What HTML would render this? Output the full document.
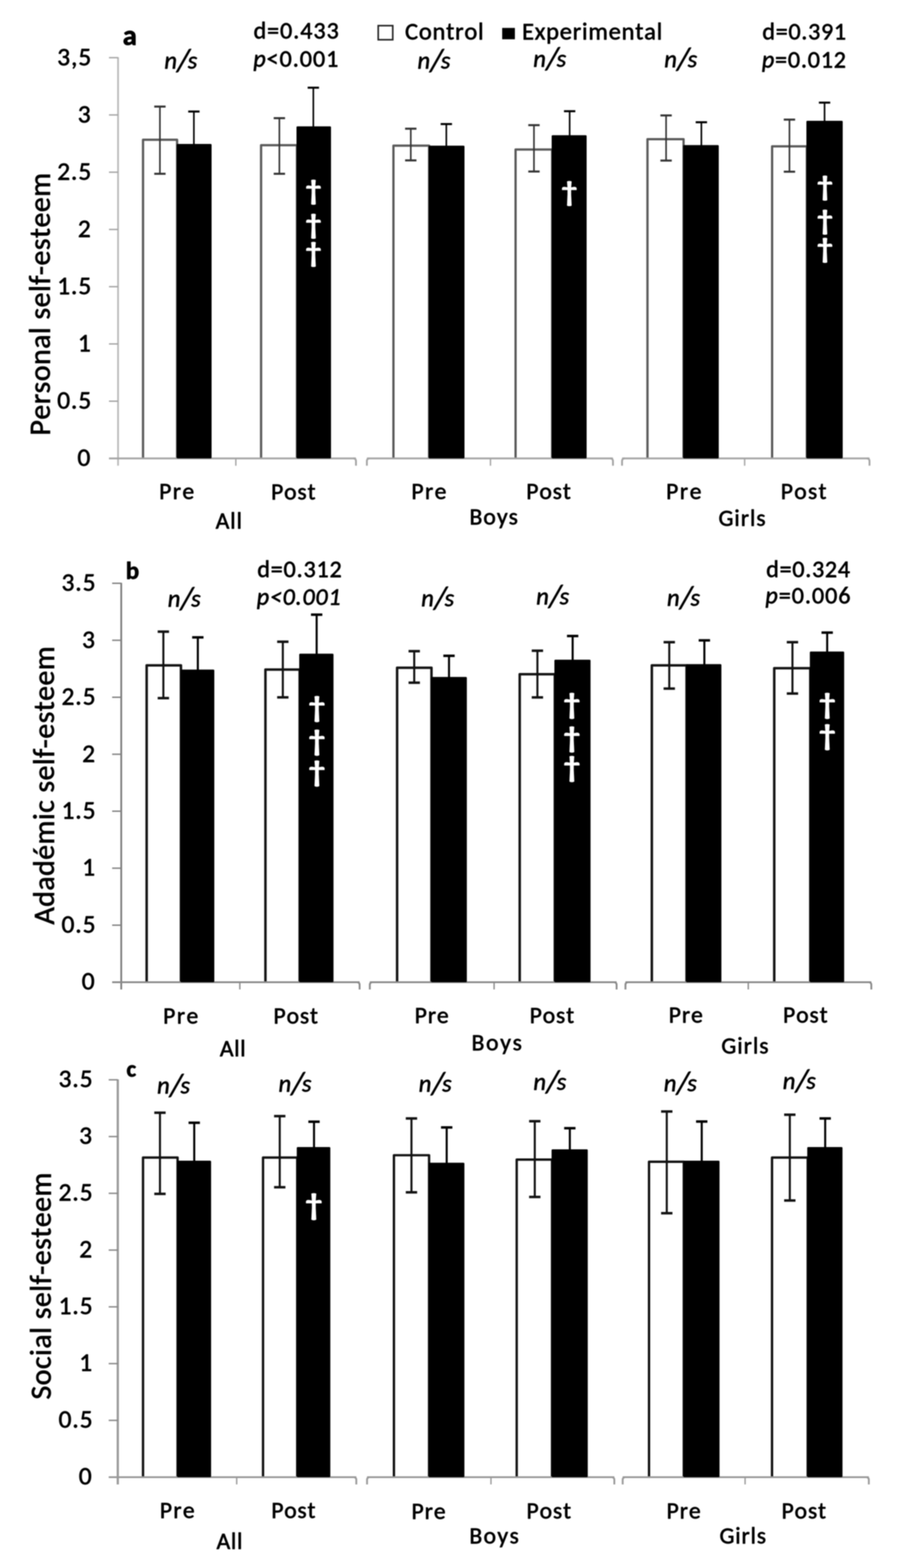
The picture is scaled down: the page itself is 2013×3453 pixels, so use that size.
<!DOCTYPE html><html><head><meta charset="utf-8"><style>html,body{margin:0;padding:0;background:#fff}svg{display:block;filter:blur(1.0px);font-kerning:none}</style></head><body>
<svg width="2013" height="3453" viewBox="0 0 2013 3453" font-family='"Carlito", "Liberation Sans", sans-serif'>
<rect width="2013" height="3453" fill="#fff"/>
<line x1="260.0" y1="126.0" x2="260.0" y2="1025.6" stroke="#bdbdbd" stroke-width="4" stroke-linecap="butt"/>
<line x1="240.0" y1="1009.6" x2="260.0" y2="1009.6" stroke="#a3a3a3" stroke-width="3" stroke-linecap="butt"/>
<line x1="240.0" y1="883.5" x2="260.0" y2="883.5" stroke="#a3a3a3" stroke-width="3" stroke-linecap="butt"/>
<line x1="240.0" y1="757.4" x2="260.0" y2="757.4" stroke="#a3a3a3" stroke-width="3" stroke-linecap="butt"/>
<line x1="240.0" y1="631.3" x2="260.0" y2="631.3" stroke="#a3a3a3" stroke-width="3" stroke-linecap="butt"/>
<line x1="240.0" y1="505.3" x2="260.0" y2="505.3" stroke="#a3a3a3" stroke-width="3" stroke-linecap="butt"/>
<line x1="240.0" y1="379.2" x2="260.0" y2="379.2" stroke="#a3a3a3" stroke-width="3" stroke-linecap="butt"/>
<line x1="240.0" y1="253.1" x2="260.0" y2="253.1" stroke="#a3a3a3" stroke-width="3" stroke-linecap="butt"/>
<line x1="240.0" y1="127.0" x2="260.0" y2="127.0" stroke="#a3a3a3" stroke-width="3" stroke-linecap="butt"/>
<path d="M315.0,1009.6 L315.0,307.8 L390.0,307.8 L390.0,1009.6" fill="#fff" stroke="#5a5a5a" stroke-width="5" stroke-linejoin="round"/>
<path d="M575.0,1009.6 L575.0,319.8 L654.0,319.8 L654.0,1009.6" fill="#fff" stroke="#5a5a5a" stroke-width="5" stroke-linejoin="round"/>
<path d="M866.5,1009.6 L866.5,320.8 L945.0,320.8 L945.0,1009.6" fill="#fff" stroke="#5a5a5a" stroke-width="5" stroke-linejoin="round"/>
<path d="M1135.5,1009.6 L1135.5,329.3 L1216.0,329.3 L1216.0,1009.6" fill="#fff" stroke="#5a5a5a" stroke-width="5" stroke-linejoin="round"/>
<path d="M1426.0,1009.6 L1426.0,306.6 L1505.5,306.6 L1505.5,1009.6" fill="#fff" stroke="#5a5a5a" stroke-width="5" stroke-linejoin="round"/>
<path d="M1700.5,1009.6 L1700.5,322.3 L1777.0,322.3 L1777.0,1009.6" fill="#fff" stroke="#5a5a5a" stroke-width="5" stroke-linejoin="round"/>
<line x1="240.0" y1="1009.6" x2="784.0" y2="1009.6" stroke="#a3a3a3" stroke-width="4" stroke-linecap="butt"/>
<line x1="519.4" y1="1009.6" x2="519.4" y2="1025.6" stroke="#a3a3a3" stroke-width="3" stroke-linecap="butt"/>
<line x1="808.0" y1="1009.6" x2="1350.0" y2="1009.6" stroke="#a3a3a3" stroke-width="4" stroke-linecap="butt"/>
<line x1="1080.2" y1="1009.6" x2="1080.2" y2="1025.6" stroke="#a3a3a3" stroke-width="3" stroke-linecap="butt"/>
<line x1="1370.0" y1="1009.6" x2="1915.0" y2="1009.6" stroke="#a3a3a3" stroke-width="4" stroke-linecap="butt"/>
<line x1="1640.0" y1="1009.6" x2="1640.0" y2="1025.6" stroke="#a3a3a3" stroke-width="3" stroke-linecap="butt"/>
<path d="M778.0,1009.6 Q784,1009.6 784,1015.6 L784,1025.6" fill="none" stroke="#a3a3a3" stroke-width="4"/>
<path d="M814.0,1009.6 Q808,1009.6 808,1015.6 L808,1025.6" fill="none" stroke="#a3a3a3" stroke-width="4"/>
<path d="M1344.0,1009.6 Q1350,1009.6 1350,1015.6 L1350,1025.6" fill="none" stroke="#a3a3a3" stroke-width="4"/>
<path d="M1376.0,1009.6 Q1370,1009.6 1370,1015.6 L1370,1025.6" fill="none" stroke="#a3a3a3" stroke-width="4"/>
<path d="M1909.0,1009.6 Q1915,1009.6 1915,1015.6 L1915,1025.6" fill="none" stroke="#a3a3a3" stroke-width="4"/>
<rect x="389.0" y="317.0" width="77.0" height="692.6" rx="2" fill="#000"/>
<line x1="352.2" y1="234.7" x2="352.2" y2="382.7" stroke="#333" stroke-width="3.5" stroke-linecap="butt"/>
<line x1="339.7" y1="234.7" x2="364.7" y2="234.7" stroke="#333" stroke-width="4.5" stroke-linecap="butt"/>
<line x1="339.7" y1="382.7" x2="364.7" y2="382.7" stroke="#333" stroke-width="4.5" stroke-linecap="butt"/>
<line x1="427.0" y1="245.6" x2="427.0" y2="319.0" stroke="#000" stroke-width="3.5" stroke-linecap="butt"/>
<line x1="414.5" y1="245.6" x2="439.5" y2="245.6" stroke="#000" stroke-width="4.5" stroke-linecap="butt"/>
<rect x="653.0" y="278.2" width="76.0" height="731.4" rx="2" fill="#000"/>
<line x1="615.3" y1="260.2" x2="615.3" y2="382.7" stroke="#333" stroke-width="3.5" stroke-linecap="butt"/>
<line x1="602.8" y1="260.2" x2="627.8" y2="260.2" stroke="#333" stroke-width="4.5" stroke-linecap="butt"/>
<line x1="602.8" y1="382.7" x2="627.8" y2="382.7" stroke="#333" stroke-width="4.5" stroke-linecap="butt"/>
<line x1="690.1" y1="193.1" x2="690.1" y2="280.2" stroke="#000" stroke-width="3.5" stroke-linecap="butt"/>
<line x1="677.6" y1="193.1" x2="702.6" y2="193.1" stroke="#000" stroke-width="4.5" stroke-linecap="butt"/>
<rect x="944.0" y="320.8" width="79.0" height="688.8" rx="2" fill="#000"/>
<line x1="904.7" y1="283.4" x2="904.7" y2="353.2" stroke="#333" stroke-width="3.5" stroke-linecap="butt"/>
<line x1="892.2" y1="283.4" x2="917.2" y2="283.4" stroke="#333" stroke-width="4.5" stroke-linecap="butt"/>
<line x1="892.2" y1="353.2" x2="917.2" y2="353.2" stroke="#333" stroke-width="4.5" stroke-linecap="butt"/>
<line x1="983.0" y1="273.2" x2="983.0" y2="322.8" stroke="#000" stroke-width="3.5" stroke-linecap="butt"/>
<line x1="970.5" y1="273.2" x2="995.5" y2="273.2" stroke="#000" stroke-width="4.5" stroke-linecap="butt"/>
<rect x="1215.0" y="297.7" width="77.0" height="711.9" rx="2" fill="#000"/>
<line x1="1176.0" y1="275.6" x2="1176.0" y2="377.7" stroke="#333" stroke-width="3.5" stroke-linecap="butt"/>
<line x1="1163.5" y1="275.6" x2="1188.5" y2="275.6" stroke="#333" stroke-width="4.5" stroke-linecap="butt"/>
<line x1="1163.5" y1="377.7" x2="1188.5" y2="377.7" stroke="#333" stroke-width="4.5" stroke-linecap="butt"/>
<line x1="1254.6" y1="244.9" x2="1254.6" y2="299.7" stroke="#000" stroke-width="3.5" stroke-linecap="butt"/>
<line x1="1242.1" y1="244.9" x2="1267.1" y2="244.9" stroke="#000" stroke-width="4.5" stroke-linecap="butt"/>
<rect x="1504.5" y="319.5" width="78.5" height="690.1" rx="2" fill="#000"/>
<line x1="1467.0" y1="254.2" x2="1467.0" y2="353.6" stroke="#333" stroke-width="3.5" stroke-linecap="butt"/>
<line x1="1454.5" y1="254.2" x2="1479.5" y2="254.2" stroke="#333" stroke-width="4.5" stroke-linecap="butt"/>
<line x1="1454.5" y1="353.6" x2="1479.5" y2="353.6" stroke="#333" stroke-width="4.5" stroke-linecap="butt"/>
<line x1="1544.7" y1="269.2" x2="1544.7" y2="321.5" stroke="#000" stroke-width="3.5" stroke-linecap="butt"/>
<line x1="1532.2" y1="269.2" x2="1557.2" y2="269.2" stroke="#000" stroke-width="4.5" stroke-linecap="butt"/>
<rect x="1776.0" y="266.0" width="80.0" height="743.6" rx="2" fill="#000"/>
<line x1="1738.7" y1="263.4" x2="1738.7" y2="378.1" stroke="#333" stroke-width="3.5" stroke-linecap="butt"/>
<line x1="1726.2" y1="263.4" x2="1751.2" y2="263.4" stroke="#333" stroke-width="4.5" stroke-linecap="butt"/>
<line x1="1726.2" y1="378.1" x2="1751.2" y2="378.1" stroke="#333" stroke-width="4.5" stroke-linecap="butt"/>
<line x1="1816.0" y1="226.0" x2="1816.0" y2="268.0" stroke="#000" stroke-width="3.5" stroke-linecap="butt"/>
<line x1="1803.5" y1="226.0" x2="1828.5" y2="226.0" stroke="#000" stroke-width="4.5" stroke-linecap="butt"/>
<text transform="translate(690.3,439.9) scale(1.12,1)" text-anchor="middle" font-size="62" font-weight="bold" fill="#fff" stroke="#fff" stroke-width="1.2" stroke-linejoin="round">†</text>
<text transform="translate(690.3,514.9) scale(1.12,1)" text-anchor="middle" font-size="62" font-weight="bold" fill="#fff" stroke="#fff" stroke-width="1.2" stroke-linejoin="round">†</text>
<text transform="translate(690.3,577.3) scale(1.12,1)" text-anchor="middle" font-size="62" font-weight="bold" fill="#fff" stroke="#fff" stroke-width="1.2" stroke-linejoin="round">†</text>
<text transform="translate(1253.8,443.3) scale(1.12,1)" text-anchor="middle" font-size="62" font-weight="bold" fill="#fff" stroke="#fff" stroke-width="1.2" stroke-linejoin="round">†</text>
<text transform="translate(1816.9,430.6) scale(1.12,1)" text-anchor="middle" font-size="62" font-weight="bold" fill="#fff" stroke="#fff" stroke-width="1.2" stroke-linejoin="round">†</text>
<text transform="translate(1816.9,505.9) scale(1.12,1)" text-anchor="middle" font-size="62" font-weight="bold" fill="#fff" stroke="#fff" stroke-width="1.2" stroke-linejoin="round">†</text>
<text transform="translate(1816.9,567.8) scale(1.12,1)" text-anchor="middle" font-size="62" font-weight="bold" fill="#fff" stroke="#fff" stroke-width="1.2" stroke-linejoin="round">†</text>
<text x="170.6" y="1026.1" font-size="56" fill="#000" stroke="#000" stroke-width="1.3" stroke-linejoin="round" textLength="28.38" lengthAdjust="spacing"><tspan>0</tspan></text>
<text x="125.9" y="900.0" font-size="56" fill="#000" stroke="#000" stroke-width="1.3" stroke-linejoin="round" textLength="74.90" lengthAdjust="spacing"><tspan>0.5</tspan></text>
<text x="171.6" y="773.9" font-size="56" fill="#000" stroke="#000" stroke-width="1.3" stroke-linejoin="round" textLength="28.38" lengthAdjust="spacing"><tspan>1</tspan></text>
<text x="125.9" y="647.8" font-size="56" fill="#000" stroke="#000" stroke-width="1.3" stroke-linejoin="round" textLength="74.90" lengthAdjust="spacing"><tspan>1.5</tspan></text>
<text x="171.5" y="521.8" font-size="56" fill="#000" stroke="#000" stroke-width="1.3" stroke-linejoin="round" textLength="28.38" lengthAdjust="spacing"><tspan>2</tspan></text>
<text x="125.9" y="395.7" font-size="56" fill="#000" stroke="#000" stroke-width="1.3" stroke-linejoin="round" textLength="74.90" lengthAdjust="spacing"><tspan>2.5</tspan></text>
<text x="171.2" y="269.6" font-size="56" fill="#000" stroke="#000" stroke-width="1.3" stroke-linejoin="round" textLength="28.38" lengthAdjust="spacing"><tspan>3</tspan></text>
<text x="126.1" y="143.5" font-size="56" fill="#000" stroke="#000" stroke-width="1.3" stroke-linejoin="round" textLength="74.74" lengthAdjust="spacing"><tspan>3,5</tspan></text>
<line x1="267.0" y1="1283.5" x2="267.0" y2="2178.9" stroke="#7f7f7f" stroke-width="4" stroke-linecap="butt"/>
<line x1="247.0" y1="2162.9" x2="267.0" y2="2162.9" stroke="#7f7f7f" stroke-width="3" stroke-linecap="butt"/>
<line x1="247.0" y1="2037.4" x2="267.0" y2="2037.4" stroke="#7f7f7f" stroke-width="3" stroke-linecap="butt"/>
<line x1="247.0" y1="1911.9" x2="267.0" y2="1911.9" stroke="#7f7f7f" stroke-width="3" stroke-linecap="butt"/>
<line x1="247.0" y1="1786.4" x2="267.0" y2="1786.4" stroke="#7f7f7f" stroke-width="3" stroke-linecap="butt"/>
<line x1="247.0" y1="1661.0" x2="267.0" y2="1661.0" stroke="#7f7f7f" stroke-width="3" stroke-linecap="butt"/>
<line x1="247.0" y1="1535.5" x2="267.0" y2="1535.5" stroke="#7f7f7f" stroke-width="3" stroke-linecap="butt"/>
<line x1="247.0" y1="1410.0" x2="267.0" y2="1410.0" stroke="#7f7f7f" stroke-width="3" stroke-linecap="butt"/>
<line x1="247.0" y1="1284.5" x2="267.0" y2="1284.5" stroke="#7f7f7f" stroke-width="3" stroke-linecap="butt"/>
<path d="M323.0,2162.9 L323.0,1465.3 L398.5,1465.3 L398.5,2162.9" fill="#fff" stroke="#141414" stroke-width="5.5" stroke-linejoin="round"/>
<path d="M584.6,2162.9 L584.6,1474.4 L660.0,1474.4 L660.0,2162.9" fill="#fff" stroke="#141414" stroke-width="5.5" stroke-linejoin="round"/>
<path d="M874.6,2162.9 L874.6,1470.4 L950.3,1470.4 L950.3,2162.9" fill="#fff" stroke="#141414" stroke-width="5.5" stroke-linejoin="round"/>
<path d="M1144.6,2162.9 L1144.6,1484.7 L1222.0,1484.7 L1222.0,2162.9" fill="#fff" stroke="#141414" stroke-width="5.5" stroke-linejoin="round"/>
<path d="M1435.6,2162.9 L1435.6,1465.3 L1512.1,1465.3 L1512.1,2162.9" fill="#fff" stroke="#141414" stroke-width="5.5" stroke-linejoin="round"/>
<path d="M1705.2,2162.9 L1705.2,1471.4 L1784.6,1471.4 L1784.6,2162.9" fill="#fff" stroke="#141414" stroke-width="5.5" stroke-linejoin="round"/>
<line x1="247.0" y1="2162.9" x2="792.0" y2="2162.9" stroke="#8a8a8a" stroke-width="4" stroke-linecap="butt"/>
<line x1="528.2" y1="2162.9" x2="528.2" y2="2178.9" stroke="#8a8a8a" stroke-width="3" stroke-linecap="butt"/>
<line x1="814.5" y1="2162.9" x2="1358.0" y2="2162.9" stroke="#8a8a8a" stroke-width="4" stroke-linecap="butt"/>
<line x1="1088.2" y1="2162.9" x2="1088.2" y2="2178.9" stroke="#8a8a8a" stroke-width="3" stroke-linecap="butt"/>
<line x1="1377.5" y1="2162.9" x2="1919.0" y2="2162.9" stroke="#8a8a8a" stroke-width="4" stroke-linecap="butt"/>
<line x1="1648.0" y1="2162.9" x2="1648.0" y2="2178.9" stroke="#8a8a8a" stroke-width="3" stroke-linecap="butt"/>
<path d="M786.0,2162.9 Q792,2162.9 792,2168.9 L792,2178.9" fill="none" stroke="#8a8a8a" stroke-width="4"/>
<path d="M820.5,2162.9 Q814.5,2162.9 814.5,2168.9 L814.5,2178.9" fill="none" stroke="#8a8a8a" stroke-width="4"/>
<path d="M1352.0,2162.9 Q1358,2162.9 1358,2168.9 L1358,2178.9" fill="none" stroke="#8a8a8a" stroke-width="4"/>
<path d="M1383.5,2162.9 Q1377.5,2162.9 1377.5,2168.9 L1377.5,2178.9" fill="none" stroke="#8a8a8a" stroke-width="4"/>
<path d="M1913.0,2162.9 Q1919,2162.9 1919,2168.9 L1919,2178.9" fill="none" stroke="#8a8a8a" stroke-width="4"/>
<rect x="397.5" y="1474.4" width="74.5" height="688.5" rx="2" fill="#000"/>
<line x1="359.8" y1="1391.0" x2="359.8" y2="1537.4" stroke="#111" stroke-width="4.5" stroke-linecap="butt"/>
<line x1="347.3" y1="1391.0" x2="372.3" y2="1391.0" stroke="#111" stroke-width="5.5" stroke-linecap="butt"/>
<line x1="347.3" y1="1537.4" x2="372.3" y2="1537.4" stroke="#111" stroke-width="5.5" stroke-linecap="butt"/>
<line x1="435.7" y1="1403.6" x2="435.7" y2="1476.4" stroke="#000" stroke-width="4.5" stroke-linecap="butt"/>
<line x1="423.2" y1="1403.6" x2="448.2" y2="1403.6" stroke="#000" stroke-width="5.5" stroke-linecap="butt"/>
<rect x="659.0" y="1439.4" width="75.5" height="723.5" rx="2" fill="#000"/>
<line x1="622.9" y1="1413.2" x2="622.9" y2="1535.7" stroke="#111" stroke-width="4.5" stroke-linecap="butt"/>
<line x1="610.4" y1="1413.2" x2="635.4" y2="1413.2" stroke="#111" stroke-width="5.5" stroke-linecap="butt"/>
<line x1="610.4" y1="1535.7" x2="635.4" y2="1535.7" stroke="#111" stroke-width="5.5" stroke-linecap="butt"/>
<line x1="697.4" y1="1353.6" x2="697.4" y2="1441.4" stroke="#000" stroke-width="4.5" stroke-linecap="butt"/>
<line x1="684.9" y1="1353.6" x2="709.9" y2="1353.6" stroke="#000" stroke-width="5.5" stroke-linecap="butt"/>
<rect x="949.3" y="1490.8" width="78.9" height="672.1" rx="2" fill="#000"/>
<line x1="912.3" y1="1434.0" x2="912.3" y2="1503.4" stroke="#111" stroke-width="4.5" stroke-linecap="butt"/>
<line x1="899.8" y1="1434.0" x2="924.8" y2="1434.0" stroke="#111" stroke-width="5.5" stroke-linecap="butt"/>
<line x1="899.8" y1="1503.4" x2="924.8" y2="1503.4" stroke="#111" stroke-width="5.5" stroke-linecap="butt"/>
<line x1="988.9" y1="1444.2" x2="988.9" y2="1492.8" stroke="#000" stroke-width="4.5" stroke-linecap="butt"/>
<line x1="976.4" y1="1444.2" x2="1001.4" y2="1444.2" stroke="#000" stroke-width="5.5" stroke-linecap="butt"/>
<rect x="1221.0" y="1452.7" width="79.6" height="710.2" rx="2" fill="#000"/>
<line x1="1183.6" y1="1433.0" x2="1183.6" y2="1535.8" stroke="#111" stroke-width="4.5" stroke-linecap="butt"/>
<line x1="1171.1" y1="1433.0" x2="1196.1" y2="1433.0" stroke="#111" stroke-width="5.5" stroke-linecap="butt"/>
<line x1="1171.1" y1="1535.8" x2="1196.1" y2="1535.8" stroke="#111" stroke-width="5.5" stroke-linecap="butt"/>
<line x1="1261.2" y1="1400.6" x2="1261.2" y2="1454.7" stroke="#000" stroke-width="4.5" stroke-linecap="butt"/>
<line x1="1248.7" y1="1400.6" x2="1273.7" y2="1400.6" stroke="#000" stroke-width="5.5" stroke-linecap="butt"/>
<rect x="1511.1" y="1462.6" width="77.7" height="700.3" rx="2" fill="#000"/>
<line x1="1474.0" y1="1414.2" x2="1474.0" y2="1516.4" stroke="#111" stroke-width="4.5" stroke-linecap="butt"/>
<line x1="1461.5" y1="1414.2" x2="1486.5" y2="1414.2" stroke="#111" stroke-width="5.5" stroke-linecap="butt"/>
<line x1="1461.5" y1="1516.4" x2="1486.5" y2="1516.4" stroke="#111" stroke-width="5.5" stroke-linecap="butt"/>
<line x1="1551.3" y1="1410.2" x2="1551.3" y2="1464.6" stroke="#000" stroke-width="4.5" stroke-linecap="butt"/>
<line x1="1538.8" y1="1410.2" x2="1563.8" y2="1410.2" stroke="#000" stroke-width="5.5" stroke-linecap="butt"/>
<rect x="1783.6" y="1434.7" width="75.6" height="728.2" rx="2" fill="#000"/>
<line x1="1745.3" y1="1414.2" x2="1745.3" y2="1527.3" stroke="#111" stroke-width="4.5" stroke-linecap="butt"/>
<line x1="1732.8" y1="1414.2" x2="1757.8" y2="1414.2" stroke="#111" stroke-width="5.5" stroke-linecap="butt"/>
<line x1="1732.8" y1="1527.3" x2="1757.8" y2="1527.3" stroke="#111" stroke-width="5.5" stroke-linecap="butt"/>
<line x1="1821.8" y1="1393.1" x2="1821.8" y2="1436.7" stroke="#000" stroke-width="4.5" stroke-linecap="butt"/>
<line x1="1809.3" y1="1393.1" x2="1834.3" y2="1393.1" stroke="#000" stroke-width="5.5" stroke-linecap="butt"/>
<text transform="translate(697.8,1579.0) scale(1.12,1)" text-anchor="middle" font-size="65" font-weight="bold" fill="#fff" stroke="#fff" stroke-width="1.2" stroke-linejoin="round">†</text>
<text transform="translate(697.8,1653.3) scale(1.12,1)" text-anchor="middle" font-size="65" font-weight="bold" fill="#fff" stroke="#fff" stroke-width="1.2" stroke-linejoin="round">†</text>
<text transform="translate(697.8,1721.4) scale(1.12,1)" text-anchor="middle" font-size="65" font-weight="bold" fill="#fff" stroke="#fff" stroke-width="1.2" stroke-linejoin="round">†</text>
<text transform="translate(1259.3,1572.3) scale(1.12,1)" text-anchor="middle" font-size="65" font-weight="bold" fill="#fff" stroke="#fff" stroke-width="1.2" stroke-linejoin="round">†</text>
<text transform="translate(1259.3,1645.5) scale(1.12,1)" text-anchor="middle" font-size="65" font-weight="bold" fill="#fff" stroke="#fff" stroke-width="1.2" stroke-linejoin="round">†</text>
<text transform="translate(1259.3,1710.5) scale(1.12,1)" text-anchor="middle" font-size="65" font-weight="bold" fill="#fff" stroke="#fff" stroke-width="1.2" stroke-linejoin="round">†</text>
<text transform="translate(1821.9,1571.9) scale(1.12,1)" text-anchor="middle" font-size="65" font-weight="bold" fill="#fff" stroke="#fff" stroke-width="1.2" stroke-linejoin="round">†</text>
<text transform="translate(1821.9,1641.0) scale(1.12,1)" text-anchor="middle" font-size="65" font-weight="bold" fill="#fff" stroke="#fff" stroke-width="1.2" stroke-linejoin="round">†</text>
<text x="180.1" y="2179.4" font-size="56" fill="#000" stroke="#000" stroke-width="1.3" stroke-linejoin="round" textLength="28.38" lengthAdjust="spacing"><tspan>0</tspan></text>
<text x="135.4" y="2053.9" font-size="56" fill="#000" stroke="#000" stroke-width="1.3" stroke-linejoin="round" textLength="74.90" lengthAdjust="spacing"><tspan>0.5</tspan></text>
<text x="181.1" y="1928.4" font-size="56" fill="#000" stroke="#000" stroke-width="1.3" stroke-linejoin="round" textLength="28.38" lengthAdjust="spacing"><tspan>1</tspan></text>
<text x="135.4" y="1802.9" font-size="56" fill="#000" stroke="#000" stroke-width="1.3" stroke-linejoin="round" textLength="74.90" lengthAdjust="spacing"><tspan>1.5</tspan></text>
<text x="181.0" y="1677.5" font-size="56" fill="#000" stroke="#000" stroke-width="1.3" stroke-linejoin="round" textLength="28.38" lengthAdjust="spacing"><tspan>2</tspan></text>
<text x="135.4" y="1552.0" font-size="56" fill="#000" stroke="#000" stroke-width="1.3" stroke-linejoin="round" textLength="74.90" lengthAdjust="spacing"><tspan>2.5</tspan></text>
<text x="180.8" y="1426.5" font-size="56" fill="#000" stroke="#000" stroke-width="1.3" stroke-linejoin="round" textLength="28.38" lengthAdjust="spacing"><tspan>3</tspan></text>
<text x="135.4" y="1301.0" font-size="56" fill="#000" stroke="#000" stroke-width="1.3" stroke-linejoin="round" textLength="74.90" lengthAdjust="spacing"><tspan>3.5</tspan></text>
<line x1="259.4" y1="2376.9" x2="259.4" y2="3268.9" stroke="#9c9c9c" stroke-width="5" stroke-linecap="butt"/>
<line x1="239.4" y1="3252.9" x2="259.4" y2="3252.9" stroke="#858585" stroke-width="3" stroke-linecap="butt"/>
<line x1="239.4" y1="3127.9" x2="259.4" y2="3127.9" stroke="#858585" stroke-width="3" stroke-linecap="butt"/>
<line x1="239.4" y1="3002.9" x2="259.4" y2="3002.9" stroke="#858585" stroke-width="3" stroke-linecap="butt"/>
<line x1="239.4" y1="2877.9" x2="259.4" y2="2877.9" stroke="#858585" stroke-width="3" stroke-linecap="butt"/>
<line x1="239.4" y1="2752.9" x2="259.4" y2="2752.9" stroke="#858585" stroke-width="3" stroke-linecap="butt"/>
<line x1="239.4" y1="2627.9" x2="259.4" y2="2627.9" stroke="#858585" stroke-width="3" stroke-linecap="butt"/>
<line x1="239.4" y1="2502.9" x2="259.4" y2="2502.9" stroke="#858585" stroke-width="3" stroke-linecap="butt"/>
<line x1="239.4" y1="2377.9" x2="259.4" y2="2377.9" stroke="#858585" stroke-width="3" stroke-linecap="butt"/>
<path d="M315.0,3252.9 L315.0,2549.1 L391.1,2549.1 L391.1,3252.9" fill="#fff" stroke="#111" stroke-width="5.2" stroke-linejoin="round"/>
<path d="M579.3,3252.9 L579.3,2549.1 L654.6,2549.1 L654.6,3252.9" fill="#fff" stroke="#111" stroke-width="5.2" stroke-linejoin="round"/>
<path d="M867.6,3252.9 L867.6,2544.0 L945.0,2544.0 L945.0,3252.9" fill="#fff" stroke="#111" stroke-width="5.2" stroke-linejoin="round"/>
<path d="M1138.0,3252.9 L1138.0,2553.6 L1215.8,2553.6 L1215.8,3252.9" fill="#fff" stroke="#111" stroke-width="5.2" stroke-linejoin="round"/>
<path d="M1429.4,3252.9 L1429.4,2558.3 L1506.0,2558.3 L1506.0,3252.9" fill="#fff" stroke="#111" stroke-width="5.2" stroke-linejoin="round"/>
<path d="M1700.3,3252.9 L1700.3,2549.1 L1778.9,2549.1 L1778.9,3252.9" fill="#fff" stroke="#111" stroke-width="5.2" stroke-linejoin="round"/>
<line x1="240.0" y1="3252.9" x2="784.7" y2="3252.9" stroke="#999" stroke-width="4" stroke-linecap="butt"/>
<line x1="521.3" y1="3252.9" x2="521.3" y2="3268.9" stroke="#999" stroke-width="3" stroke-linecap="butt"/>
<line x1="808.4" y1="3252.9" x2="1353.0" y2="3252.9" stroke="#999" stroke-width="4" stroke-linecap="butt"/>
<line x1="1081.3" y1="3252.9" x2="1081.3" y2="3268.9" stroke="#999" stroke-width="3" stroke-linecap="butt"/>
<line x1="1371.4" y1="3252.9" x2="1913.5" y2="3252.9" stroke="#999" stroke-width="4" stroke-linecap="butt"/>
<line x1="1641.0" y1="3252.9" x2="1641.0" y2="3268.9" stroke="#999" stroke-width="3" stroke-linecap="butt"/>
<path d="M778.7,3252.9 Q784.7,3252.9 784.7,3258.9 L784.7,3268.9" fill="none" stroke="#999" stroke-width="4"/>
<path d="M814.4,3252.9 Q808.4,3252.9 808.4,3258.9 L808.4,3268.9" fill="none" stroke="#999" stroke-width="4"/>
<path d="M1347.0,3252.9 Q1353,3252.9 1353,3258.9 L1353,3268.9" fill="none" stroke="#999" stroke-width="4"/>
<path d="M1377.4,3252.9 Q1371.4,3252.9 1371.4,3258.9 L1371.4,3268.9" fill="none" stroke="#999" stroke-width="4"/>
<path d="M1907.5,3252.9 Q1913.5,3252.9 1913.5,3258.9 L1913.5,3268.9" fill="none" stroke="#999" stroke-width="4"/>
<rect x="390.1" y="2555.9" width="74.8" height="697.0" rx="2" fill="#000"/>
<line x1="352.3" y1="2450.4" x2="352.3" y2="2629.1" stroke="#111" stroke-width="4.5" stroke-linecap="butt"/>
<line x1="339.8" y1="2450.4" x2="364.8" y2="2450.4" stroke="#111" stroke-width="5.5" stroke-linecap="butt"/>
<line x1="339.8" y1="2629.1" x2="364.8" y2="2629.1" stroke="#111" stroke-width="5.5" stroke-linecap="butt"/>
<line x1="427.8" y1="2472.5" x2="427.8" y2="2557.9" stroke="#000" stroke-width="4.5" stroke-linecap="butt"/>
<line x1="415.3" y1="2472.5" x2="440.3" y2="2472.5" stroke="#000" stroke-width="5.5" stroke-linecap="butt"/>
<rect x="653.6" y="2526.0" width="73.9" height="726.9" rx="2" fill="#000"/>
<line x1="616.1" y1="2457.9" x2="616.1" y2="2614.5" stroke="#111" stroke-width="4.5" stroke-linecap="butt"/>
<line x1="603.6" y1="2457.9" x2="628.6" y2="2457.9" stroke="#111" stroke-width="5.5" stroke-linecap="butt"/>
<line x1="603.6" y1="2614.5" x2="628.6" y2="2614.5" stroke="#111" stroke-width="5.5" stroke-linecap="butt"/>
<line x1="691.6" y1="2470.2" x2="691.6" y2="2528.0" stroke="#000" stroke-width="4.5" stroke-linecap="butt"/>
<line x1="679.1" y1="2470.2" x2="704.1" y2="2470.2" stroke="#000" stroke-width="5.5" stroke-linecap="butt"/>
<rect x="944.0" y="2560.4" width="78.8" height="692.5" rx="2" fill="#000"/>
<line x1="906.2" y1="2463.0" x2="906.2" y2="2625.7" stroke="#111" stroke-width="4.5" stroke-linecap="butt"/>
<line x1="893.7" y1="2463.0" x2="918.7" y2="2463.0" stroke="#111" stroke-width="5.5" stroke-linecap="butt"/>
<line x1="893.7" y1="2625.7" x2="918.7" y2="2625.7" stroke="#111" stroke-width="5.5" stroke-linecap="butt"/>
<line x1="983.8" y1="2482.8" x2="983.8" y2="2562.4" stroke="#000" stroke-width="4.5" stroke-linecap="butt"/>
<line x1="971.3" y1="2482.8" x2="996.3" y2="2482.8" stroke="#000" stroke-width="5.5" stroke-linecap="butt"/>
<rect x="1214.8" y="2531.1" width="79.7" height="721.8" rx="2" fill="#000"/>
<line x1="1177.8" y1="2469.1" x2="1177.8" y2="2635.9" stroke="#111" stroke-width="4.5" stroke-linecap="butt"/>
<line x1="1165.3" y1="2469.1" x2="1190.3" y2="2469.1" stroke="#111" stroke-width="5.5" stroke-linecap="butt"/>
<line x1="1165.3" y1="2635.9" x2="1190.3" y2="2635.9" stroke="#111" stroke-width="5.5" stroke-linecap="butt"/>
<line x1="1255.0" y1="2484.5" x2="1255.0" y2="2533.1" stroke="#000" stroke-width="4.5" stroke-linecap="butt"/>
<line x1="1242.5" y1="2484.5" x2="1267.5" y2="2484.5" stroke="#000" stroke-width="5.5" stroke-linecap="butt"/>
<rect x="1505.0" y="2555.9" width="79.7" height="697.0" rx="2" fill="#000"/>
<line x1="1468.5" y1="2447.7" x2="1468.5" y2="2671.7" stroke="#111" stroke-width="4.5" stroke-linecap="butt"/>
<line x1="1456.0" y1="2447.7" x2="1481.0" y2="2447.7" stroke="#111" stroke-width="5.5" stroke-linecap="butt"/>
<line x1="1456.0" y1="2671.7" x2="1481.0" y2="2671.7" stroke="#111" stroke-width="5.5" stroke-linecap="butt"/>
<line x1="1545.5" y1="2469.8" x2="1545.5" y2="2557.9" stroke="#000" stroke-width="4.5" stroke-linecap="butt"/>
<line x1="1533.0" y1="2469.8" x2="1558.0" y2="2469.8" stroke="#000" stroke-width="5.5" stroke-linecap="butt"/>
<rect x="1777.9" y="2526.0" width="77.6" height="726.9" rx="2" fill="#000"/>
<line x1="1739.5" y1="2454.8" x2="1739.5" y2="2643.7" stroke="#111" stroke-width="4.5" stroke-linecap="butt"/>
<line x1="1727.0" y1="2454.8" x2="1752.0" y2="2454.8" stroke="#111" stroke-width="5.5" stroke-linecap="butt"/>
<line x1="1727.0" y1="2643.7" x2="1752.0" y2="2643.7" stroke="#111" stroke-width="5.5" stroke-linecap="butt"/>
<line x1="1817.4" y1="2463.0" x2="1817.4" y2="2528.0" stroke="#000" stroke-width="4.5" stroke-linecap="butt"/>
<line x1="1804.9" y1="2463.0" x2="1829.9" y2="2463.0" stroke="#000" stroke-width="5.5" stroke-linecap="butt"/>
<text transform="translate(691.0,2675.3) scale(1.12,1)" text-anchor="middle" font-size="66.5" font-weight="bold" fill="#fff" stroke="#fff" stroke-width="1.2" stroke-linejoin="round">†</text>
<text x="173.6" y="3269.4" font-size="56" fill="#000" stroke="#000" stroke-width="1.3" stroke-linejoin="round" textLength="28.38" lengthAdjust="spacing"><tspan>0</tspan></text>
<text x="128.9" y="3144.4" font-size="56" fill="#000" stroke="#000" stroke-width="1.3" stroke-linejoin="round" textLength="74.90" lengthAdjust="spacing"><tspan>0.5</tspan></text>
<text x="174.6" y="3019.4" font-size="56" fill="#000" stroke="#000" stroke-width="1.3" stroke-linejoin="round" textLength="28.38" lengthAdjust="spacing"><tspan>1</tspan></text>
<text x="128.9" y="2894.4" font-size="56" fill="#000" stroke="#000" stroke-width="1.3" stroke-linejoin="round" textLength="74.90" lengthAdjust="spacing"><tspan>1.5</tspan></text>
<text x="174.5" y="2769.4" font-size="56" fill="#000" stroke="#000" stroke-width="1.3" stroke-linejoin="round" textLength="28.38" lengthAdjust="spacing"><tspan>2</tspan></text>
<text x="128.9" y="2644.4" font-size="56" fill="#000" stroke="#000" stroke-width="1.3" stroke-linejoin="round" textLength="74.90" lengthAdjust="spacing"><tspan>2.5</tspan></text>
<text x="174.2" y="2519.4" font-size="56" fill="#000" stroke="#000" stroke-width="1.3" stroke-linejoin="round" textLength="28.38" lengthAdjust="spacing"><tspan>3</tspan></text>
<text x="128.9" y="2394.4" font-size="56" fill="#000" stroke="#000" stroke-width="1.3" stroke-linejoin="round" textLength="74.90" lengthAdjust="spacing"><tspan>3.5</tspan></text>
<text x="270.3" y="99.0" font-size="63" fill="#000" stroke="#000" stroke-width="1.5" stroke-linejoin="round" textLength="31.10" lengthAdjust="spacing"><tspan font-weight="bold">a</tspan></text>
<text y="151.4" font-size="54" font-style="italic" stroke="#000" stroke-width="1.3" stroke-linejoin="round"><tspan x="361.9">n</tspan><tspan x="390.6" y="156.4" font-size="70">/</tspan><tspan x="413.5" y="151.4">s</tspan></text>
<text y="151.3" font-size="54" font-style="italic" stroke="#000" stroke-width="1.3" stroke-linejoin="round"><tspan x="919.4">n</tspan><tspan x="948.1" y="156.3" font-size="70">/</tspan><tspan x="971.0" y="151.3">s</tspan></text>
<text y="147.2" font-size="54" font-style="italic" stroke="#000" stroke-width="1.3" stroke-linejoin="round"><tspan x="1174.5">n</tspan><tspan x="1203.2" y="152.2" font-size="70">/</tspan><tspan x="1226.1" y="147.2">s</tspan></text>
<text y="148.0" font-size="54" font-style="italic" stroke="#000" stroke-width="1.3" stroke-linejoin="round"><tspan x="1462.9">n</tspan><tspan x="1491.6" y="153.0" font-size="70">/</tspan><tspan x="1514.5" y="148.0">s</tspan></text>
<text x="558.4" y="85.0" font-size="53" fill="#000" stroke="#000" stroke-width="1.3" stroke-linejoin="round" textLength="187.73" lengthAdjust="spacing"><tspan>d=0.433</tspan></text>
<text x="558.0" y="146.5" font-size="53" fill="#000" stroke="#000" stroke-width="1.3" stroke-linejoin="round" textLength="187.03" lengthAdjust="spacing"><tspan font-style="italic">p</tspan><tspan>&lt;0.001</tspan></text>
<text x="1679.1" y="87.0" font-size="53" fill="#000" stroke="#000" stroke-width="1.3" stroke-linejoin="round" textLength="184.30" lengthAdjust="spacing"><tspan>d=0.391</tspan></text>
<text x="1678.1" y="148.5" font-size="53" fill="#000" stroke="#000" stroke-width="1.3" stroke-linejoin="round" textLength="185.11" lengthAdjust="spacing"><tspan font-style="italic">p</tspan><tspan>=0.012</tspan></text>
<rect x="833" y="56.5" width="32" height="31" fill="#fff" stroke="#222" stroke-width="3.5"/>
<rect x="1106" y="61.5" width="28" height="25" fill="#000"/>
<text x="892.1" y="87.0" font-size="54" fill="#000" stroke="#000" stroke-width="1.3" stroke-linejoin="round" textLength="173.14" lengthAdjust="spacing"><tspan>Control</tspan></text>
<text x="1149.7" y="87.0" font-size="54" fill="#000" stroke="#000" stroke-width="1.3" stroke-linejoin="round" textLength="308.90" lengthAdjust="spacing"><tspan>Experimental</tspan></text>
<text x="350.4" y="1098.5" font-size="52" fill="#000" stroke="#000" stroke-width="1.3" stroke-linejoin="round" textLength="77.21" lengthAdjust="spacing"><tspan>Pre</tspan></text>
<text x="596.9" y="1099.5" font-size="52" fill="#000" stroke="#000" stroke-width="1.3" stroke-linejoin="round" textLength="97.95" lengthAdjust="spacing"><tspan>Post</tspan></text>
<text x="905.9" y="1098.5" font-size="52" fill="#000" stroke="#000" stroke-width="1.3" stroke-linejoin="round" textLength="77.11" lengthAdjust="spacing"><tspan>Pre</tspan></text>
<text x="1159.1" y="1099.0" font-size="52" fill="#000" stroke="#000" stroke-width="1.3" stroke-linejoin="round" textLength="97.95" lengthAdjust="spacing"><tspan>Post</tspan></text>
<text x="1466.9" y="1098.5" font-size="52" fill="#000" stroke="#000" stroke-width="1.3" stroke-linejoin="round" textLength="77.91" lengthAdjust="spacing"><tspan>Pre</tspan></text>
<text x="1719.6" y="1098.5" font-size="52" fill="#000" stroke="#000" stroke-width="1.3" stroke-linejoin="round" textLength="100.65" lengthAdjust="spacing"><tspan>Post</tspan></text>
<text x="475.1" y="1163.5" font-size="52" fill="#000" stroke="#000" stroke-width="1.3" stroke-linejoin="round" textLength="57.74" lengthAdjust="spacing"><tspan>All</tspan></text>
<text x="1033.9" y="1154.5" font-size="52" fill="#000" stroke="#000" stroke-width="1.3" stroke-linejoin="round" textLength="106.81" lengthAdjust="spacing"><tspan>Boys</tspan></text>
<text x="1582.4" y="1158.0" font-size="52" fill="#000" stroke="#000" stroke-width="1.3" stroke-linejoin="round" textLength="103.81" lengthAdjust="spacing"><tspan>Girls</tspan></text>
<text transform="translate(109.5,954.5) rotate(-90)" x="-4.7" y="0" font-size="66" stroke="#000" stroke-width="1.3" textLength="578.46" lengthAdjust="spacing">Personal self-esteem</text>
<text x="277.1" y="1274.8" font-size="55" fill="#000" stroke="#000" stroke-width="1.3" stroke-linejoin="round" textLength="29.51" lengthAdjust="spacing"><tspan font-weight="bold">b</tspan></text>
<text y="1336.4" font-size="54" font-style="italic" stroke="#000" stroke-width="1.3" stroke-linejoin="round"><tspan x="369.4">n</tspan><tspan x="398.1" y="1341.4" font-size="70">/</tspan><tspan x="421.0" y="1336.4">s</tspan></text>
<text y="1335.4" font-size="54" font-style="italic" stroke="#000" stroke-width="1.3" stroke-linejoin="round"><tspan x="927.7">n</tspan><tspan x="956.4" y="1340.4" font-size="70">/</tspan><tspan x="979.3" y="1335.4">s</tspan></text>
<text y="1331.3" font-size="54" font-style="italic" stroke="#000" stroke-width="1.3" stroke-linejoin="round"><tspan x="1180.9">n</tspan><tspan x="1209.6" y="1336.3" font-size="70">/</tspan><tspan x="1232.5" y="1331.3">s</tspan></text>
<text y="1334.0" font-size="54" font-style="italic" stroke="#000" stroke-width="1.3" stroke-linejoin="round"><tspan x="1469.1">n</tspan><tspan x="1497.8" y="1339.0" font-size="70">/</tspan><tspan x="1520.7" y="1334.0">s</tspan></text>
<text x="566.7" y="1270.5" font-size="53" fill="#000" stroke="#000" stroke-width="1.3" stroke-linejoin="round" textLength="185.97" lengthAdjust="spacing"><tspan>d=0.312</tspan></text>
<text x="565.6" y="1332.0" font-size="53" fill="#000" stroke="#000" stroke-width="1.3" stroke-linejoin="round" textLength="184.45" lengthAdjust="spacing"><tspan font-style="italic">p&lt;0.001</tspan></text>
<text x="1687.6" y="1270.5" font-size="53" fill="#000" stroke="#000" stroke-width="1.3" stroke-linejoin="round" textLength="184.59" lengthAdjust="spacing"><tspan>d=0.324</tspan></text>
<text x="1685.8" y="1328.5" font-size="53" fill="#000" stroke="#000" stroke-width="1.3" stroke-linejoin="round" textLength="187.29" lengthAdjust="spacing"><tspan font-style="italic">p</tspan><tspan>=0.006</tspan></text>
<text x="359.2" y="2254.0" font-size="52" fill="#000" stroke="#000" stroke-width="1.3" stroke-linejoin="round" textLength="77.51" lengthAdjust="spacing"><tspan>Pre</tspan></text>
<text x="602.3" y="2254.0" font-size="52" fill="#000" stroke="#000" stroke-width="1.3" stroke-linejoin="round" textLength="97.95" lengthAdjust="spacing"><tspan>Post</tspan></text>
<text x="913.2" y="2252.6" font-size="52" fill="#000" stroke="#000" stroke-width="1.3" stroke-linejoin="round" textLength="75.01" lengthAdjust="spacing"><tspan>Pre</tspan></text>
<text x="1166.4" y="2252.5" font-size="52" fill="#000" stroke="#000" stroke-width="1.3" stroke-linejoin="round" textLength="97.95" lengthAdjust="spacing"><tspan>Post</tspan></text>
<text x="1472.7" y="2252.0" font-size="52" fill="#000" stroke="#000" stroke-width="1.3" stroke-linejoin="round" textLength="75.11" lengthAdjust="spacing"><tspan>Pre</tspan></text>
<text x="1724.6" y="2252.0" font-size="52" fill="#000" stroke="#000" stroke-width="1.3" stroke-linejoin="round" textLength="97.95" lengthAdjust="spacing"><tspan>Post</tspan></text>
<text x="484.3" y="2325.5" font-size="52" fill="#000" stroke="#000" stroke-width="1.3" stroke-linejoin="round" textLength="56.74" lengthAdjust="spacing"><tspan>All</tspan></text>
<text x="1038.4" y="2312.5" font-size="52" fill="#000" stroke="#000" stroke-width="1.3" stroke-linejoin="round" textLength="111.01" lengthAdjust="spacing"><tspan>Boys</tspan></text>
<text x="1588.8" y="2320.0" font-size="52" fill="#000" stroke="#000" stroke-width="1.3" stroke-linejoin="round" textLength="103.81" lengthAdjust="spacing"><tspan>Girls</tspan></text>
<text transform="translate(118.5,2035.8) rotate(-90)" x="-0.3" y="0" font-size="66" stroke="#000" stroke-width="1.3" textLength="612.88" lengthAdjust="spacing">Adadémic self-esteem</text>
<text x="278.6" y="2371.0" font-size="51" fill="#000" stroke="#000" stroke-width="1.3" stroke-linejoin="round" textLength="21.34" lengthAdjust="spacing"><tspan font-weight="bold">c</tspan></text>
<text y="2407.6" font-size="54" font-style="italic" stroke="#000" stroke-width="1.3" stroke-linejoin="round"><tspan x="345.9">n</tspan><tspan x="374.6" y="2412.6" font-size="70">/</tspan><tspan x="397.5" y="2407.6">s</tspan></text>
<text y="2404.3" font-size="54" font-style="italic" stroke="#000" stroke-width="1.3" stroke-linejoin="round"><tspan x="613.4">n</tspan><tspan x="642.1" y="2409.3" font-size="70">/</tspan><tspan x="665.0" y="2404.3">s</tspan></text>
<text y="2404.0" font-size="54" font-style="italic" stroke="#000" stroke-width="1.3" stroke-linejoin="round"><tspan x="922.2">n</tspan><tspan x="950.9" y="2409.0" font-size="70">/</tspan><tspan x="973.8" y="2404.0">s</tspan></text>
<text y="2399.6" font-size="54" font-style="italic" stroke="#000" stroke-width="1.3" stroke-linejoin="round"><tspan x="1174.7">n</tspan><tspan x="1203.4" y="2404.6" font-size="70">/</tspan><tspan x="1226.3" y="2399.6">s</tspan></text>
<text y="2403.0" font-size="54" font-style="italic" stroke="#000" stroke-width="1.3" stroke-linejoin="round"><tspan x="1462.1">n</tspan><tspan x="1490.8" y="2408.0" font-size="70">/</tspan><tspan x="1513.7" y="2403.0">s</tspan></text>
<text y="2398.0" font-size="54" font-style="italic" stroke="#000" stroke-width="1.3" stroke-linejoin="round"><tspan x="1724.1">n</tspan><tspan x="1752.8" y="2403.0" font-size="70">/</tspan><tspan x="1775.7" y="2398.0">s</tspan></text>
<text x="352.1" y="3343.4" font-size="52" fill="#000" stroke="#000" stroke-width="1.3" stroke-linejoin="round" textLength="76.51" lengthAdjust="spacing"><tspan>Pre</tspan></text>
<text x="597.5" y="3343.4" font-size="52" fill="#000" stroke="#000" stroke-width="1.3" stroke-linejoin="round" textLength="97.05" lengthAdjust="spacing"><tspan>Post</tspan></text>
<text x="906.3" y="3344.7" font-size="52" fill="#000" stroke="#000" stroke-width="1.3" stroke-linejoin="round" textLength="75.11" lengthAdjust="spacing"><tspan>Pre</tspan></text>
<text x="1159.6" y="3344.0" font-size="52" fill="#000" stroke="#000" stroke-width="1.3" stroke-linejoin="round" textLength="97.95" lengthAdjust="spacing"><tspan>Post</tspan></text>
<text x="1468.0" y="3344.0" font-size="52" fill="#000" stroke="#000" stroke-width="1.3" stroke-linejoin="round" textLength="75.11" lengthAdjust="spacing"><tspan>Pre</tspan></text>
<text x="1721.2" y="3344.0" font-size="52" fill="#000" stroke="#000" stroke-width="1.3" stroke-linejoin="round" textLength="97.95" lengthAdjust="spacing"><tspan>Post</tspan></text>
<text x="477.1" y="3410.5" font-size="52" fill="#000" stroke="#000" stroke-width="1.3" stroke-linejoin="round" textLength="56.74" lengthAdjust="spacing"><tspan>All</tspan></text>
<text x="1033.7" y="3398.5" font-size="52" fill="#000" stroke="#000" stroke-width="1.3" stroke-linejoin="round" textLength="108.91" lengthAdjust="spacing"><tspan>Boys</tspan></text>
<text x="1584.7" y="3398.5" font-size="52" fill="#000" stroke="#000" stroke-width="1.3" stroke-linejoin="round" textLength="102.51" lengthAdjust="spacing"><tspan>Girls</tspan></text>
<text transform="translate(111.5,3080.3) rotate(-90)" x="-1.8" y="0" font-size="66" stroke="#000" stroke-width="1.3" textLength="499.89" lengthAdjust="spacing">Social self-esteem</text>
</svg></body></html>
